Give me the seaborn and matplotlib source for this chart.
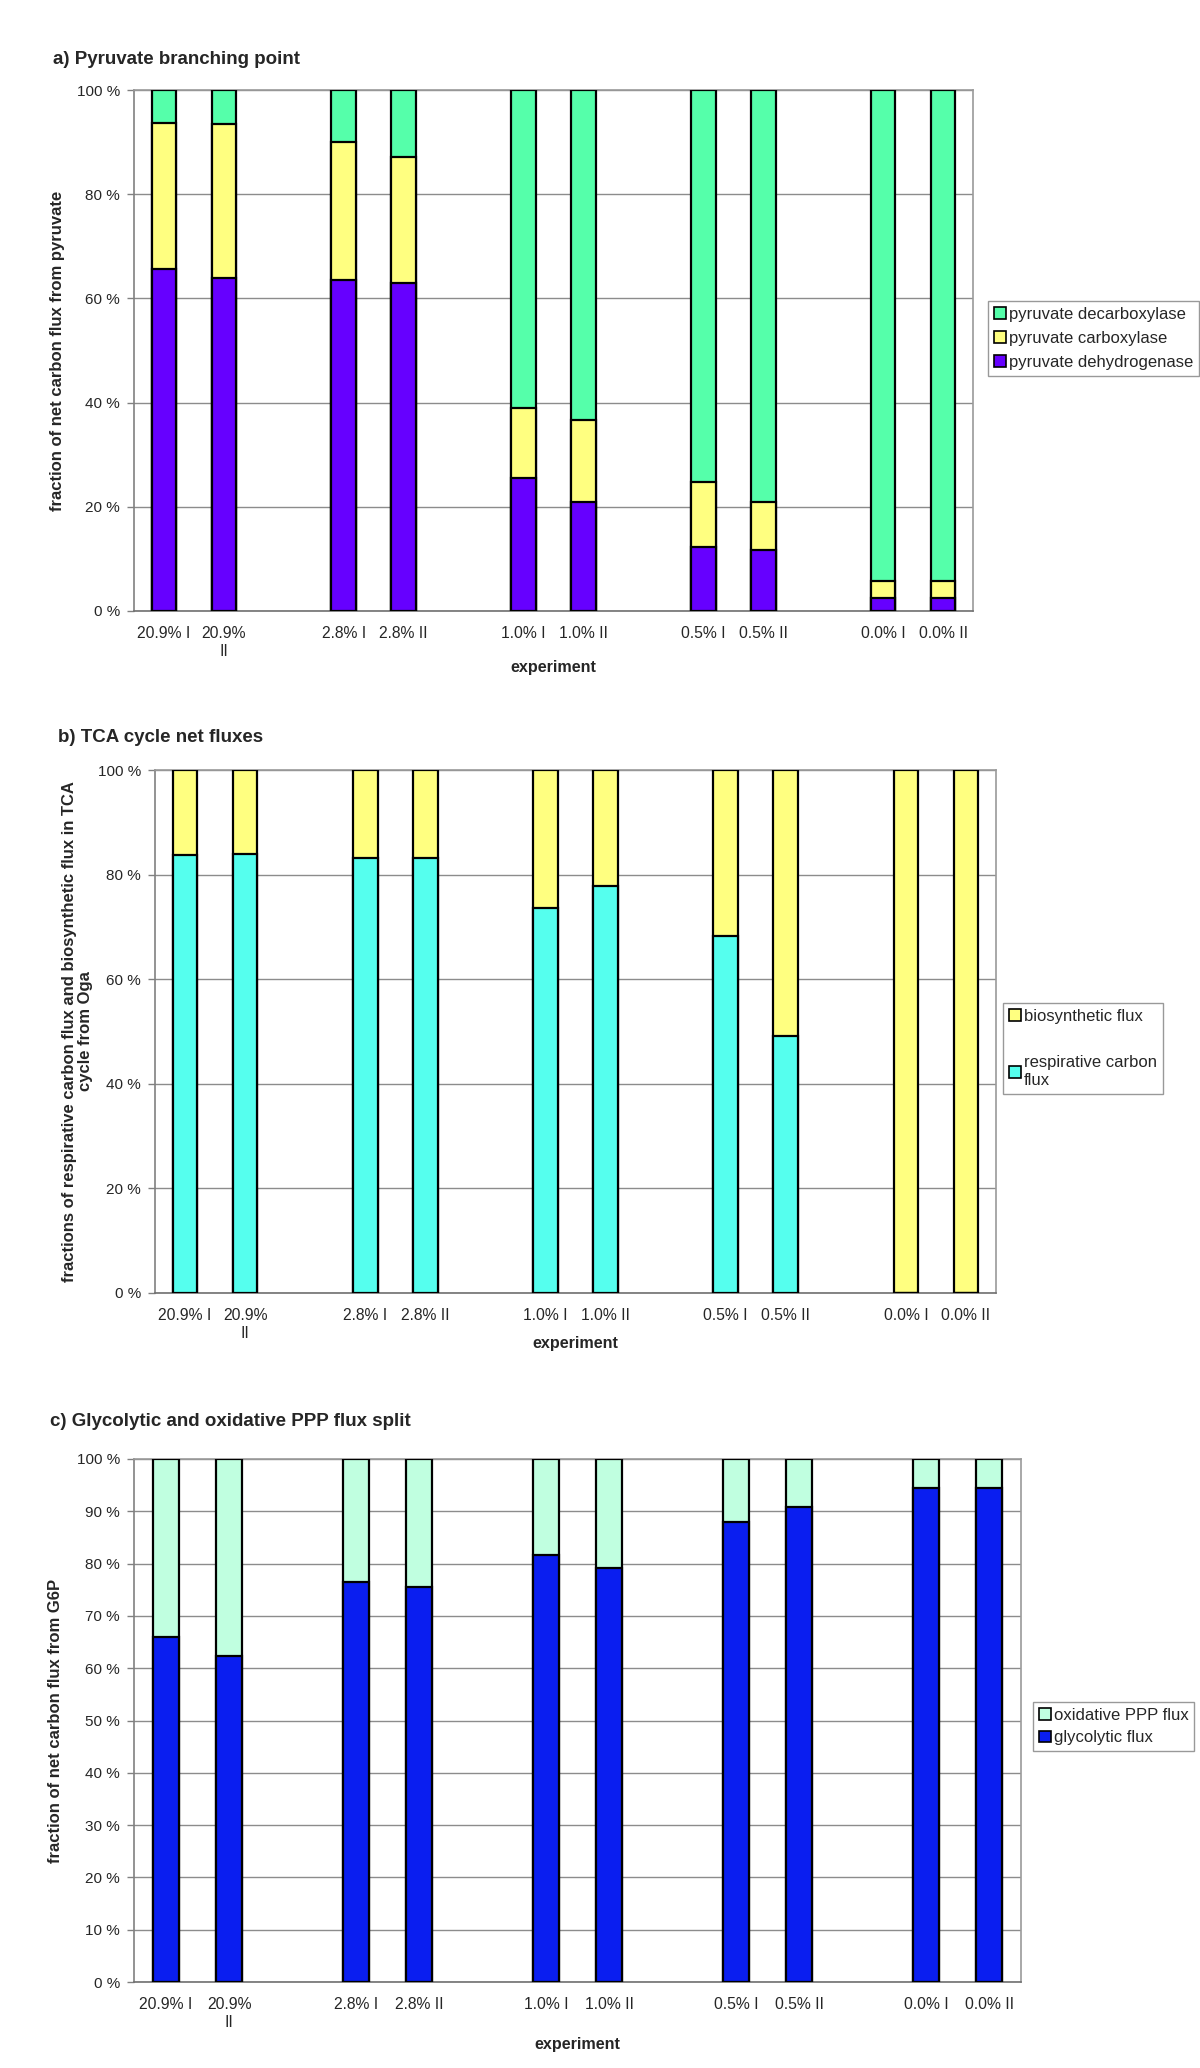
import matplotlib
matplotlib.use("Agg")
import matplotlib.pyplot as plt
import numpy as np
import pandas as pd
import seaborn as sns
from matplotlib.patches import Patch

W, H = 1200, 2068

# categorical slots (gaps between oxygen levels are empty slots)
slots = ["20.9% I", "20.9% II", "gap1", "2.8% I", "2.8% II", "gap2",
         "1.0% I", "1.0% II", "gap3", "0.5% I", "0.5% II", "gap4",
         "0.0% I", "0.0% II"]
slot_labels = ["20.9% I", "20.9%\nII", "", "2.8% I", "2.8% II", "",
               "1.0% I", "1.0% II", "", "0.5% I", "0.5% II", "",
               "0.0% I", "0.0% II"]
experiments = ["20.9% I", "20.9% II", "2.8% I", "2.8% II", "1.0% I",
               "1.0% II", "0.5% I", "0.5% II", "0.0% I", "0.0% II"]

# a) pyruvate branching point (% of net carbon flux)
pdh = [65.6, 64.0, 63.6, 62.9, 25.6, 21.0, 12.2, 11.8, 2.4, 2.4]
pc = [28.1, 29.4, 26.4, 24.2, 13.3, 15.7, 12.5, 9.1, 3.3, 3.3]
pdc = [6.3, 6.6, 10.0, 12.9, 61.1, 63.3, 75.3, 79.1, 94.3, 94.3]

# b) TCA cycle
respirative = [83.7, 84.0, 83.2, 83.1, 73.7, 77.9, 68.2, 49.1, 0.0, 0.0]
biosynthetic = [16.3, 16.0, 16.8, 16.9, 26.3, 22.1, 31.8, 50.9, 100.0, 100.0]

# c) glycolysis / oxPPP
glycolytic = [66.0, 62.3, 76.4, 75.5, 81.7, 79.1, 87.9, 90.9, 94.5, 94.5]
ox_ppp = [34.0, 37.7, 23.6, 24.5, 18.3, 20.9, 12.1, 9.1, 5.5, 5.5]

sns.set_style("white")
plt.rcParams["font.family"] = ["Liberation Sans", "DejaVu Sans"]

fig = plt.figure(figsize=(W / 100, H / 100), dpi=100)


def px_axes(left, top, right, bottom):
    return fig.add_axes([left / W, 1 - bottom / H, (right - left) / W, (bottom - top) / H])


def stacked(ax, series, colors):
    df = pd.DataFrame(series, index=experiments)
    cum = df.cumsum(axis=1)
    for col in reversed(df.columns):
        sns.barplot(x=experiments, y=cum[col].values, order=slots, color=colors[col],
                    saturation=1, width=0.41, edgecolor="black", linewidth=1.6,
                    errorbar=None, ax=ax, zorder=3)


def style(ax, step, ylabel, xlabel_off, ylabel_x):
    ax.set_ylim(0, 100)
    ax.set_xlim(-0.5, len(slots) - 0.5)
    yt = np.arange(0, 101, step)
    ax.set_yticks(yt)
    ax.set_yticklabels([f"{v} %" for v in yt], fontsize=11)
    ax.yaxis.grid(True, color="#8c8c8c", linewidth=1.0, zorder=0)
    ax.set_axisbelow(True)
    ax.set_xticks(np.arange(-0.5, len(slots), 1.0))
    ax.set_xticklabels([])
    ax.set_xticks(np.arange(len(slots)), minor=True)
    ax.set_xticklabels(slot_labels, minor=True, fontsize=11.3, linespacing=1.25)
    ax.tick_params(axis="x", which="major", direction="out", length=5, color="#808080", width=1)
    ax.tick_params(axis="x", which="minor", length=0, pad=11)
    ax.tick_params(axis="y", direction="out", length=5, color="#808080", width=1, pad=5, left=True)
    for s in ax.spines.values():
        s.set_color("#9a9a9a")
        s.set_linewidth(1.2)
    ax.spines["left"].set_color("#808080")
    ax.spines["bottom"].set_color("#707070")
    ax.set_xlabel("experiment", fontsize=11.6, fontweight="bold")
    ax.xaxis.set_label_coords(0.5, xlabel_off)
    ax.set_ylabel(ylabel, fontsize=12, fontweight="bold", linespacing=1.05)
    ax.yaxis.set_label_coords(ylabel_x, 0.5)


def legend(entries, left, top, spacing):
    handles = [Patch(facecolor=c, edgecolor="black", linewidth=1.2, label=l) for l, c in entries]
    fig.legend(handles=handles, loc="upper left", bbox_to_anchor=(left / W, 1 - top / H),
               fontsize=12, frameon=True, fancybox=False, edgecolor="#808080",
               handlelength=0.7, handleheight=0.7, handletextpad=0.2,
               labelspacing=spacing, borderpad=0.35, borderaxespad=0)


# panel a
ax_a = px_axes(134, 90, 973, 611)
stacked(ax_a, {"pdh": pdh, "pc": pc, "pdc": pdc},
        {"pdh": "#6600FF", "pc": "#FFFF80", "pdc": "#55FFAA"})
style(ax_a, 20, "fraction of net carbon flux from pyruvate", -0.095, -0.082)
fig.text(53 / W, 1 - 59 / H, "a) Pyruvate branching point", fontsize=13.5, fontweight="bold", va="center")
legend([("pyruvate decarboxylase", "#55FFAA"), ("pyruvate carboxylase", "#FFFF80"),
        ("pyruvate dehydrogenase", "#6600FF")], 988, 301, 0.55)

# panel b
ax_b = px_axes(155, 770, 996, 1293)
stacked(ax_b, {"resp": respirative, "bio": biosynthetic},
        {"resp": "#55FFEE", "bio": "#FFFF80"})
style(ax_b, 20, "fractions of respirative carbon flux and biosynthetic flux in TCA\ncycle from Oga",
      -0.082, -0.074)
fig.text(58 / W, 1 - 738 / H, "b) TCA cycle net fluxes", fontsize=13.5, fontweight="bold", va="center")
legend([("biosynthetic flux", "#FFFF80"), ("respirative carbon\nflux", "#55FFEE")], 1003, 1003, 1.9)

# panel c
ax_c = px_axes(134, 1459, 1021, 1982)
stacked(ax_c, {"gly": glycolytic, "ox": ox_ppp},
        {"gly": "#0A1EF0", "ox": "#C0FFE0"})
style(ax_c, 10, "fraction of net carbon flux from G6P", -0.105, -0.08)
fig.text(50 / W, 1 - 1421 / H, "c) Glycolytic and oxidative PPP flux split", fontsize=13.5,
         fontweight="bold", va="center")
legend([("oxidative PPP flux", "#C0FFE0"), ("glycolytic flux", "#0A1EF0")], 1033, 1702, 0.45)

fig.savefig("out.png", dpi=100, facecolor="white")
